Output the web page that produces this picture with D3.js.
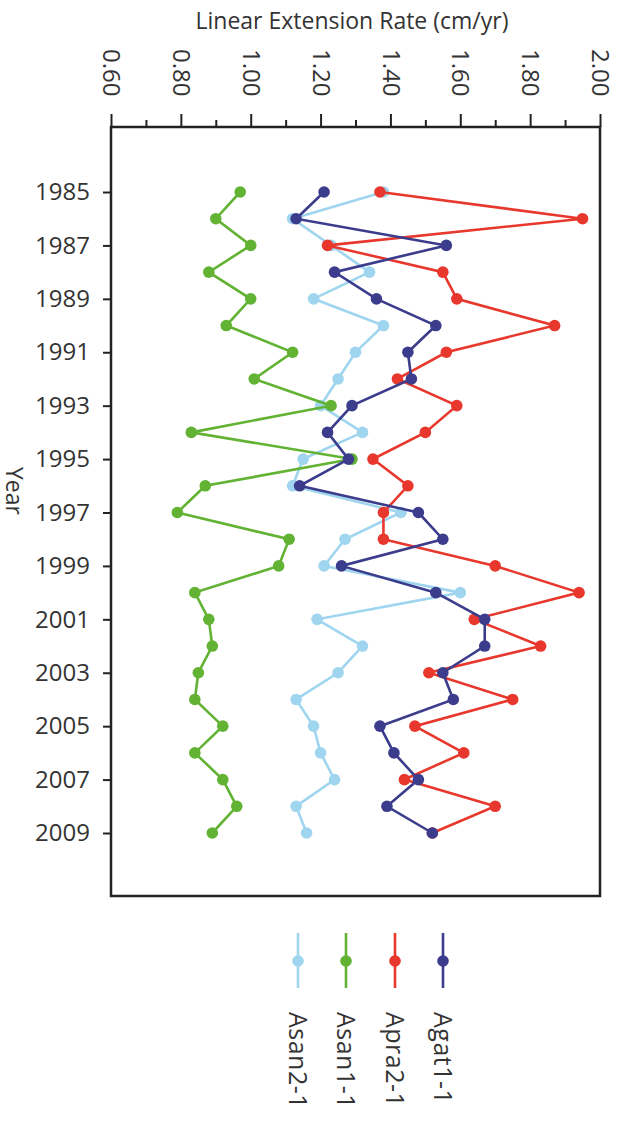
<!DOCTYPE html>
<html>
<head>
<meta charset="utf-8">
<script src="https://cdn.jsdelivr.net/npm/d3@7"></script>
<style>
  body { margin: 0; background: #fff; }
  svg text { font-family: "Open Sans", sans-serif; fill: #333; }
</style>
</head>
<body>
<div id="chart"></div>
<script>
// datos
const years = d3.range(1985, 2010);
const asan21 = [1.38, 1.12, 1.23, 1.34, 1.18, 1.38, 1.30, 1.25, 1.20, 1.32, 1.15, 1.12, 1.43,
  1.27, 1.21, 1.60, 1.19, 1.32, 1.25, 1.13, 1.18, 1.20, 1.24, 1.13, 1.16];
const asan11 = [0.97, 0.90, 1.00, 0.88, 1.00, 0.93, 1.12, 1.01, 1.23, 0.83, 1.29, 0.87, 0.79,
  1.11, 1.08, 0.84, 0.88, 0.89, 0.85, 0.84, 0.92, 0.84, 0.92, 0.96, 0.89];
const apra21 = [1.37, 1.95, 1.22, 1.55, 1.59, 1.87, 1.56, 1.42, 1.59, 1.50, 1.35, 1.45, 1.38,
  1.38, 1.70, 1.94, 1.64, 1.83, 1.51, 1.75, 1.47, 1.61, 1.44, 1.70, 1.52];
const agat11 = [1.21, 1.13, 1.56, 1.24, 1.36, 1.53, 1.45, 1.46, 1.29, 1.22, 1.28, 1.14, 1.48,
  1.55, 1.26, 1.53, 1.67, 1.67, 1.55, 1.58, 1.37, 1.41, 1.48, 1.39, 1.52];
const seriesNames = ["Asan2-1", "Asan1-1", "Apra2-1", "Agat1-1"];
const seriesColors = ["#9fd5ef", "#62b233", "#e8382d", "#3c3c8c"];
const majorTicks = [0.60, 0.80, 1.00, 1.20, 1.40, 1.60, 1.80, 2.00];
const yearTicks = d3.range(1985, 2010, 2);

const W = 641, H = 1125;
const series = [asan21, asan11, apra21, agat11].map((vals, i) => ({
  name: seriesNames[i],
  color: seriesColors[i],
  values: vals.map((v, j) => ({ year: years[j], v }))
}));

const svg = d3.select("#chart").append("svg")
  .attr("width", W).attr("height", H);

const frame = { left: 111, right: 600, top: 127, bottom: 896 };

const x = d3.scaleLinear().domain([0.6, 2.0]).range([frame.left, frame.right]);
const y = d3.scaleLinear().domain([1985, 2009]).range([192, 833]);

// titulo
svg.append("text")
  .attr("x", 352).attr("y", 29)
  .attr("text-anchor", "middle")
  .attr("font-size", 23)
  .text("Linear Extension Rate (cm/yr)");

// ticks menores y mayores arriba
svg.append("g")
  .attr("transform", `translate(0,${frame.top})`)
  .call(d3.axisTop(x).tickValues(d3.range(0.7, 2.0, 0.2)).tickSize(7).tickFormat(""))
  .call(g => g.select(".domain").remove())
  .call(g => g.selectAll("line").attr("stroke", "#222").attr("stroke-width", 2));

const topAxis = svg.append("g")
  .attr("transform", `translate(0,${frame.top})`)
  .call(d3.axisTop(x).tickValues(majorTicks).tickSize(13).tickFormat(d3.format(".2f")))
  .call(g => g.select(".domain").remove());
topAxis.selectAll("line").attr("stroke", "#222").attr("stroke-width", 2);
topAxis.selectAll("text")
  .attr("font-size", 24)
  .attr("fill", "#333")
  .attr("text-anchor", "start")
  .attr("x", 0).attr("y", 0).attr("dy", "0.35em")
  .attr("transform", `translate(0,${49 - frame.top}) rotate(90)`);

// eje de anios
const leftAxis = svg.append("g")
  .attr("transform", `translate(${frame.left},0)`)
  .call(d3.axisLeft(y).tickValues(yearTicks).tickSize(8).tickPadding(13).tickFormat(d3.format("d")))
  .call(g => g.select(".domain").remove());
leftAxis.selectAll("line").attr("stroke", "#222").attr("stroke-width", 2);
leftAxis.selectAll("text").attr("font-size", 24).attr("fill", "#333");

svg.append("text")
  .attr("transform", "translate(14,491) rotate(90)")
  .attr("text-anchor", "middle")
  .attr("dy", "0.35em")
  .attr("font-size", 23)
  .text("Year");

// marco
svg.append("rect")
  .attr("x", frame.left).attr("y", frame.top)
  .attr("width", frame.right - frame.left)
  .attr("height", frame.bottom - frame.top)
  .attr("fill", "none")
  .attr("stroke", "#222")
  .attr("stroke-width", 2.5);

// series
const line = d3.line().x(d => x(d.v)).y(d => y(d.year));

series.forEach(s => {
  const g = svg.append("g");
  g.append("path")
    .attr("d", line(s.values))
    .attr("fill", "none")
    .attr("stroke", s.color)
    .attr("stroke-width", 2.6);
  g.selectAll("circle")
    .data(s.values)
    .enter().append("circle")
    .attr("cx", d => x(d.v))
    .attr("cy", d => y(d.year))
    .attr("r", 5.8)
    .attr("fill", s.color);
});

// leyenda
const legendX = [298, 346, 395, 443];
series.forEach((s, i) => {
  const g = svg.append("g").attr("transform", `translate(${legendX[i]},0)`);
  g.append("line")
    .attr("x1", 0).attr("x2", 0)
    .attr("y1", 933).attr("y2", 988)
    .attr("stroke", s.color).attr("stroke-width", 2.6);
  g.append("circle").attr("cx", 0).attr("cy", 961).attr("r", 5.8).attr("fill", s.color);
  g.append("text")
    .attr("transform", "translate(0,1012) rotate(90)")
    .attr("dy", "0.35em")
    .attr("font-size", 25)
    .attr("letter-spacing", 0.5)
    .text(s.name);
});
</script>
</body>
</html>
